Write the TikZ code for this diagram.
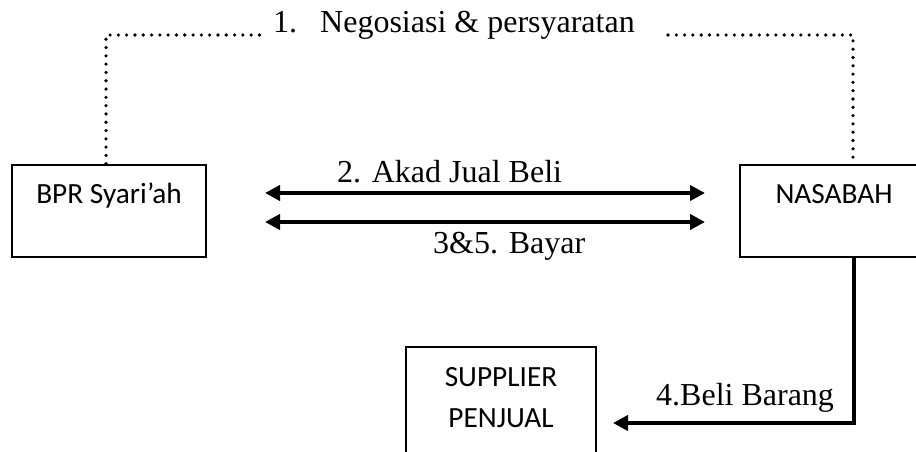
\documentclass[tikz,border=0pt]{standalone}
\usepackage{fontspec}
\setmainfont{Liberation Serif}
\newfontfamily\boxfont{Carlito}
\usetikzlibrary{arrows.meta}
\begin{document}
\begin{tikzpicture}[x=1pt,y=-1pt,
  boxnode/.style={draw,line width=2.5pt,rectangle,inner sep=0pt},
  boxtext/.style={font=\boxfont\fontsize{29.3}{35}\selectfont,anchor=base,inner sep=0pt},
  labtext/.style={font=\fontsize{32}{38}\selectfont,anchor=base west,inner sep=0pt},
  thickarrow/.style={line width=4pt,{Triangle[length=15pt,width=15pt]}-{Triangle[length=15pt,width=15pt]}},
  onearrow/.style={line width=4pt,-{Triangle[length=15pt,width=15pt]}},
  dotline/.style={line width=3.6pt,dash pattern=on 0pt off 8.3pt,line cap=round}]
\useasboundingbox (0,0) rectangle (916,452);
% boxes
\node[boxnode,minimum width=194pt,minimum height=92pt] (bpr) at (109,211) {};
\node[boxnode,minimum width=190pt,minimum height=92pt] (nas) at (835,211) {};
\node[boxnode,minimum width=190pt,minimum height=133pt] (sup) at (501,413.5) {};
% box texts
\node[boxtext] (bprt) at (109,203) {BPR Syari’ah};
\node[boxtext] (nast) at (834,203) {NASABAH};
\node[boxtext] (supt1) at (501,386) {SUPPLIER};
\node[boxtext] (supt2) at (501,427) {PENJUAL};
% labels
\node[labtext] (l1a) at (273,33) {1.};
\node[labtext] (l1b) at (320,33) {Negosiasi \& persyaratan};
\node[labtext] (l2) at (337,182) {2. Akad Jual Beli};
\node[labtext] (l3) at (433,253) {3\&5. Bayar};
\node[labtext] (l4) at (656,405) {4.Beli Barang};
% coordinates for connectors
\coordinate (a1l) at (265,193);
\coordinate (a1r) at (705,193);
\coordinate (a2l) at (265,222);
\coordinate (a2r) at (705,222);
\coordinate (d1a) at (106,35);
\coordinate (d1b) at (262,35);
\coordinate (d2a) at (668,35);
\coordinate (d2b) at (853,35);
\coordinate (c4) at (854,423);
\coordinate (t4) at (613,423);
% connectors
\draw[thickarrow] (a1l) -- (a1r);
\draw[thickarrow] (a2l) -- (a2r);
\draw[dotline] (bpr.north -| d1a) -- (d1a) -- (d1b);
\draw[dotline] (d2a) -- (d2b) -- (nas.north -| d2b);
\draw[onearrow] (nas.south -| c4) -- (c4) -- (t4);
\end{tikzpicture}
\end{document}
